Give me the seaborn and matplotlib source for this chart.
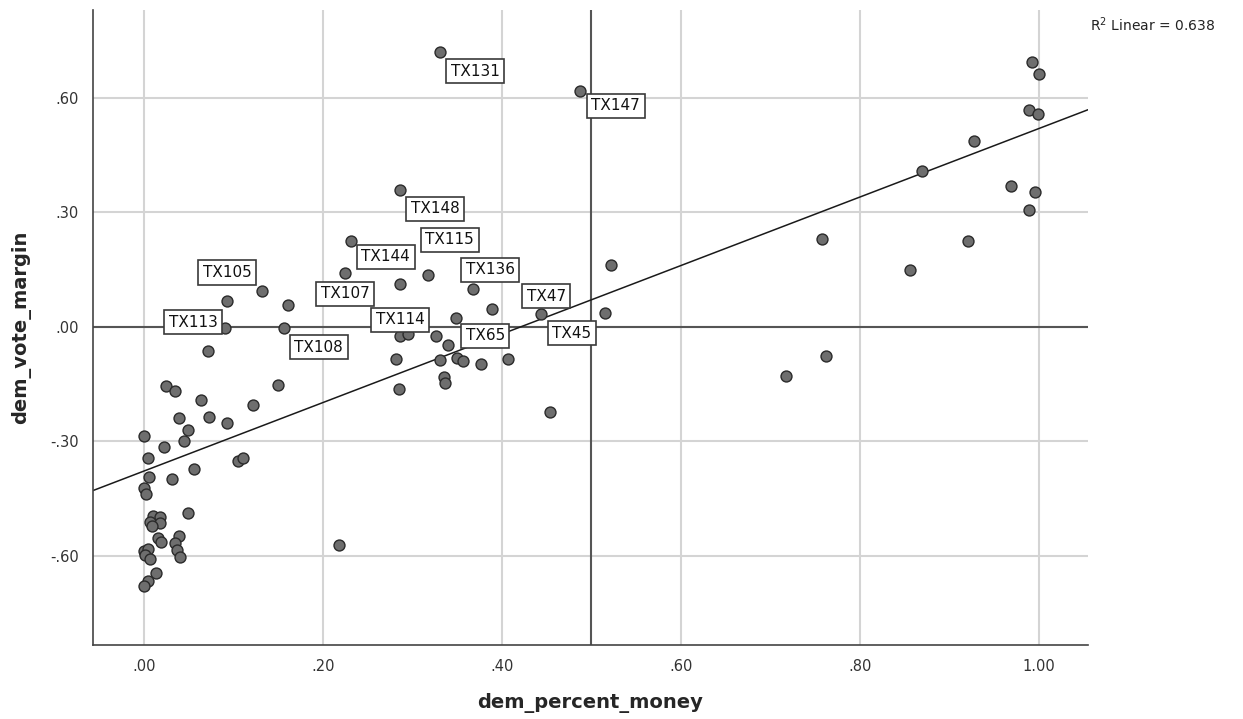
import numpy as np
import pandas as pd
import matplotlib
matplotlib.use("Agg")
import matplotlib.pyplot as plt
import seaborn as sns
from matplotlib.ticker import FuncFormatter

# --- data ---
dem_percent_money = [
    0.331, 0.487, 0.286, 0.231, 0.225, 0.286, 0.317, 0.368, 0.389, 0.349,
    0.444, 0.515, 0.522, 0.407, 0.454, 0.156, 0.161, 0.132, 0.093, 0.091,
    0.071, 0.025, 0.035, 0.064, 0.150, 0.122, 0.039, 0.073, 0.093, 0.049,
    0.000, 0.045, 0.022, 0.004, 0.105, 0.111, 0.056, 0.006, 0.031, 0.000,
    0.002, 0.049, 0.010, 0.018, 0.007, 0.018, 0.009, 0.039, 0.016, 0.019,
    0.035, 0.037, 0.000, 0.004, 0.001, 0.040, 0.007, 0.013, 0.005, 0.000,
    0.218, 0.286, 0.295, 0.326, 0.340, 0.282, 0.331, 0.350, 0.357, 0.377,
    0.335, 0.336, 0.285, 0.928, 0.869, 0.969, 0.996, 0.989, 0.758, 0.921,
    0.856, 0.762, 0.717, 0.992, 1.000, 0.989, 0.999,
]
dem_vote_margin = [
    0.719, 0.618, 0.359, 0.225, 0.142, 0.113, 0.136, 0.100, 0.048, 0.024,
    0.033, 0.036, 0.163, -0.085, -0.224, -0.003, 0.058, 0.094, 0.069, -0.003,
    -0.063, -0.155, -0.167, -0.192, -0.153, -0.204, -0.239, -0.235, -0.252, -0.271,
    -0.287, -0.300, -0.314, -0.344, -0.351, -0.344, -0.373, -0.394, -0.397, -0.421,
    -0.438, -0.488, -0.495, -0.497, -0.510, -0.513, -0.521, -0.548, -0.554, -0.563,
    -0.567, -0.584, -0.587, -0.582, -0.597, -0.603, -0.608, -0.645, -0.666, -0.678,
    -0.571, -0.025, -0.019, -0.023, -0.047, -0.085, -0.086, -0.081, -0.090, -0.096,
    -0.130, -0.148, -0.162, 0.488, 0.409, 0.369, 0.354, 0.306, 0.231, 0.224,
    0.149, -0.077, -0.128, 0.694, 0.662, 0.568, 0.558,
]

# labelled districts and the row they belong to
district_names = ["TX131", "TX147", "TX148", "TX144", "TX107", "TX114", "TX115",
                  "TX136", "TX65", "TX47", "TX45", "TX108", "TX105", "TX113"]
district_rows = [0, 1, 2, 3, 4, 5, 6, 7, 9, 10, 11, 15, 18, 19]

x_ticks = [0.0, 0.2, 0.4, 0.6, 0.8, 1.0]
y_ticks = [-0.6, -0.3, 0.0, 0.3, 0.6]
r2_text = "R$^2$ Linear = 0.638"

df = pd.DataFrame({"dem_percent_money": dem_percent_money,
                   "dem_vote_margin": dem_vote_margin})

# ラベル箱の位置（点からのピクセルずれ）
label_offsets = [(35, -19), (36, -15), (35, -19), (35, -16), (0, -21), (0, -36),
                 (22, 35), (17, 19), (29, -18), (5, 18), (-33, -20), (35, -19),
                 (0, 28), (-32, 6)]

sns.set_theme(style="white")
plt.rcParams["font.family"] = ["DejaVu Sans"]

fig = plt.figure(figsize=(12.43, 7.19), dpi=100)
ax = fig.add_axes([0.0748, 0.1029, 0.8005, 0.8833])
ax.set_xlim(-0.057, 1.055)
ax.set_ylim(-0.833, 0.830)

# grid + reference lines
ax.set_xticks(x_ticks)
ax.set_yticks(y_ticks)
ax.grid(True, color="#d4d4d4", lw=1.5, zorder=0)
ax.set_axisbelow(True)
ax.axvline(0.5, color="#555555", lw=1.5, zorder=1)
ax.axhline(0.0, color="#555555", lw=1.5, zorder=1)

sns.regplot(data=df, x="dem_percent_money", y="dem_vote_margin", ax=ax,
            ci=None, truncate=False,
            scatter_kws=dict(s=62, color="#6e6e6e", edgecolors="#2a2a2a",
                             linewidths=1.0, alpha=1, zorder=3),
            line_kws=dict(color="#1a1a1a", lw=1.1, zorder=2))
ax.set_xlim(-0.057, 1.055)
ax.set_ylim(-0.833, 0.830)

for name, row, off in zip(district_names, district_rows, label_offsets):
    ax.annotate(name, xy=(df.dem_percent_money[row], df.dem_vote_margin[row]),
                xytext=off, textcoords="offset pixels", ha="center", va="center",
                fontsize=11, color="#111111", zorder=5,
                bbox=dict(boxstyle="square,pad=0.3", fc="white", ec="#3a3a3a", lw=1.2))

fmt = FuncFormatter(lambda v, p: ("-" if v < -1e-9 else "") + ("%.2f" % abs(v)).lstrip("0"))
ax.xaxis.set_major_formatter(fmt)
ax.yaxis.set_major_formatter(fmt)
ax.tick_params(axis="both", length=0, labelsize=10.5, labelcolor="#333333", pad=10)

for side in ["top", "right"]:
    ax.spines[side].set_visible(False)
for side in ["left", "bottom"]:
    ax.spines[side].set_color("#444444")
    ax.spines[side].set_linewidth(1.2)

ax.set_xlabel("dem_percent_money", fontsize=14, fontweight="bold", labelpad=14)
ax.set_ylabel("dem_vote_margin", fontsize=14, fontweight="bold", labelpad=14)

fig.text(0.877, 0.965, r2_text, fontsize=10, color="#222222", ha="left", va="center")

fig.savefig("out.png", dpi=100)
